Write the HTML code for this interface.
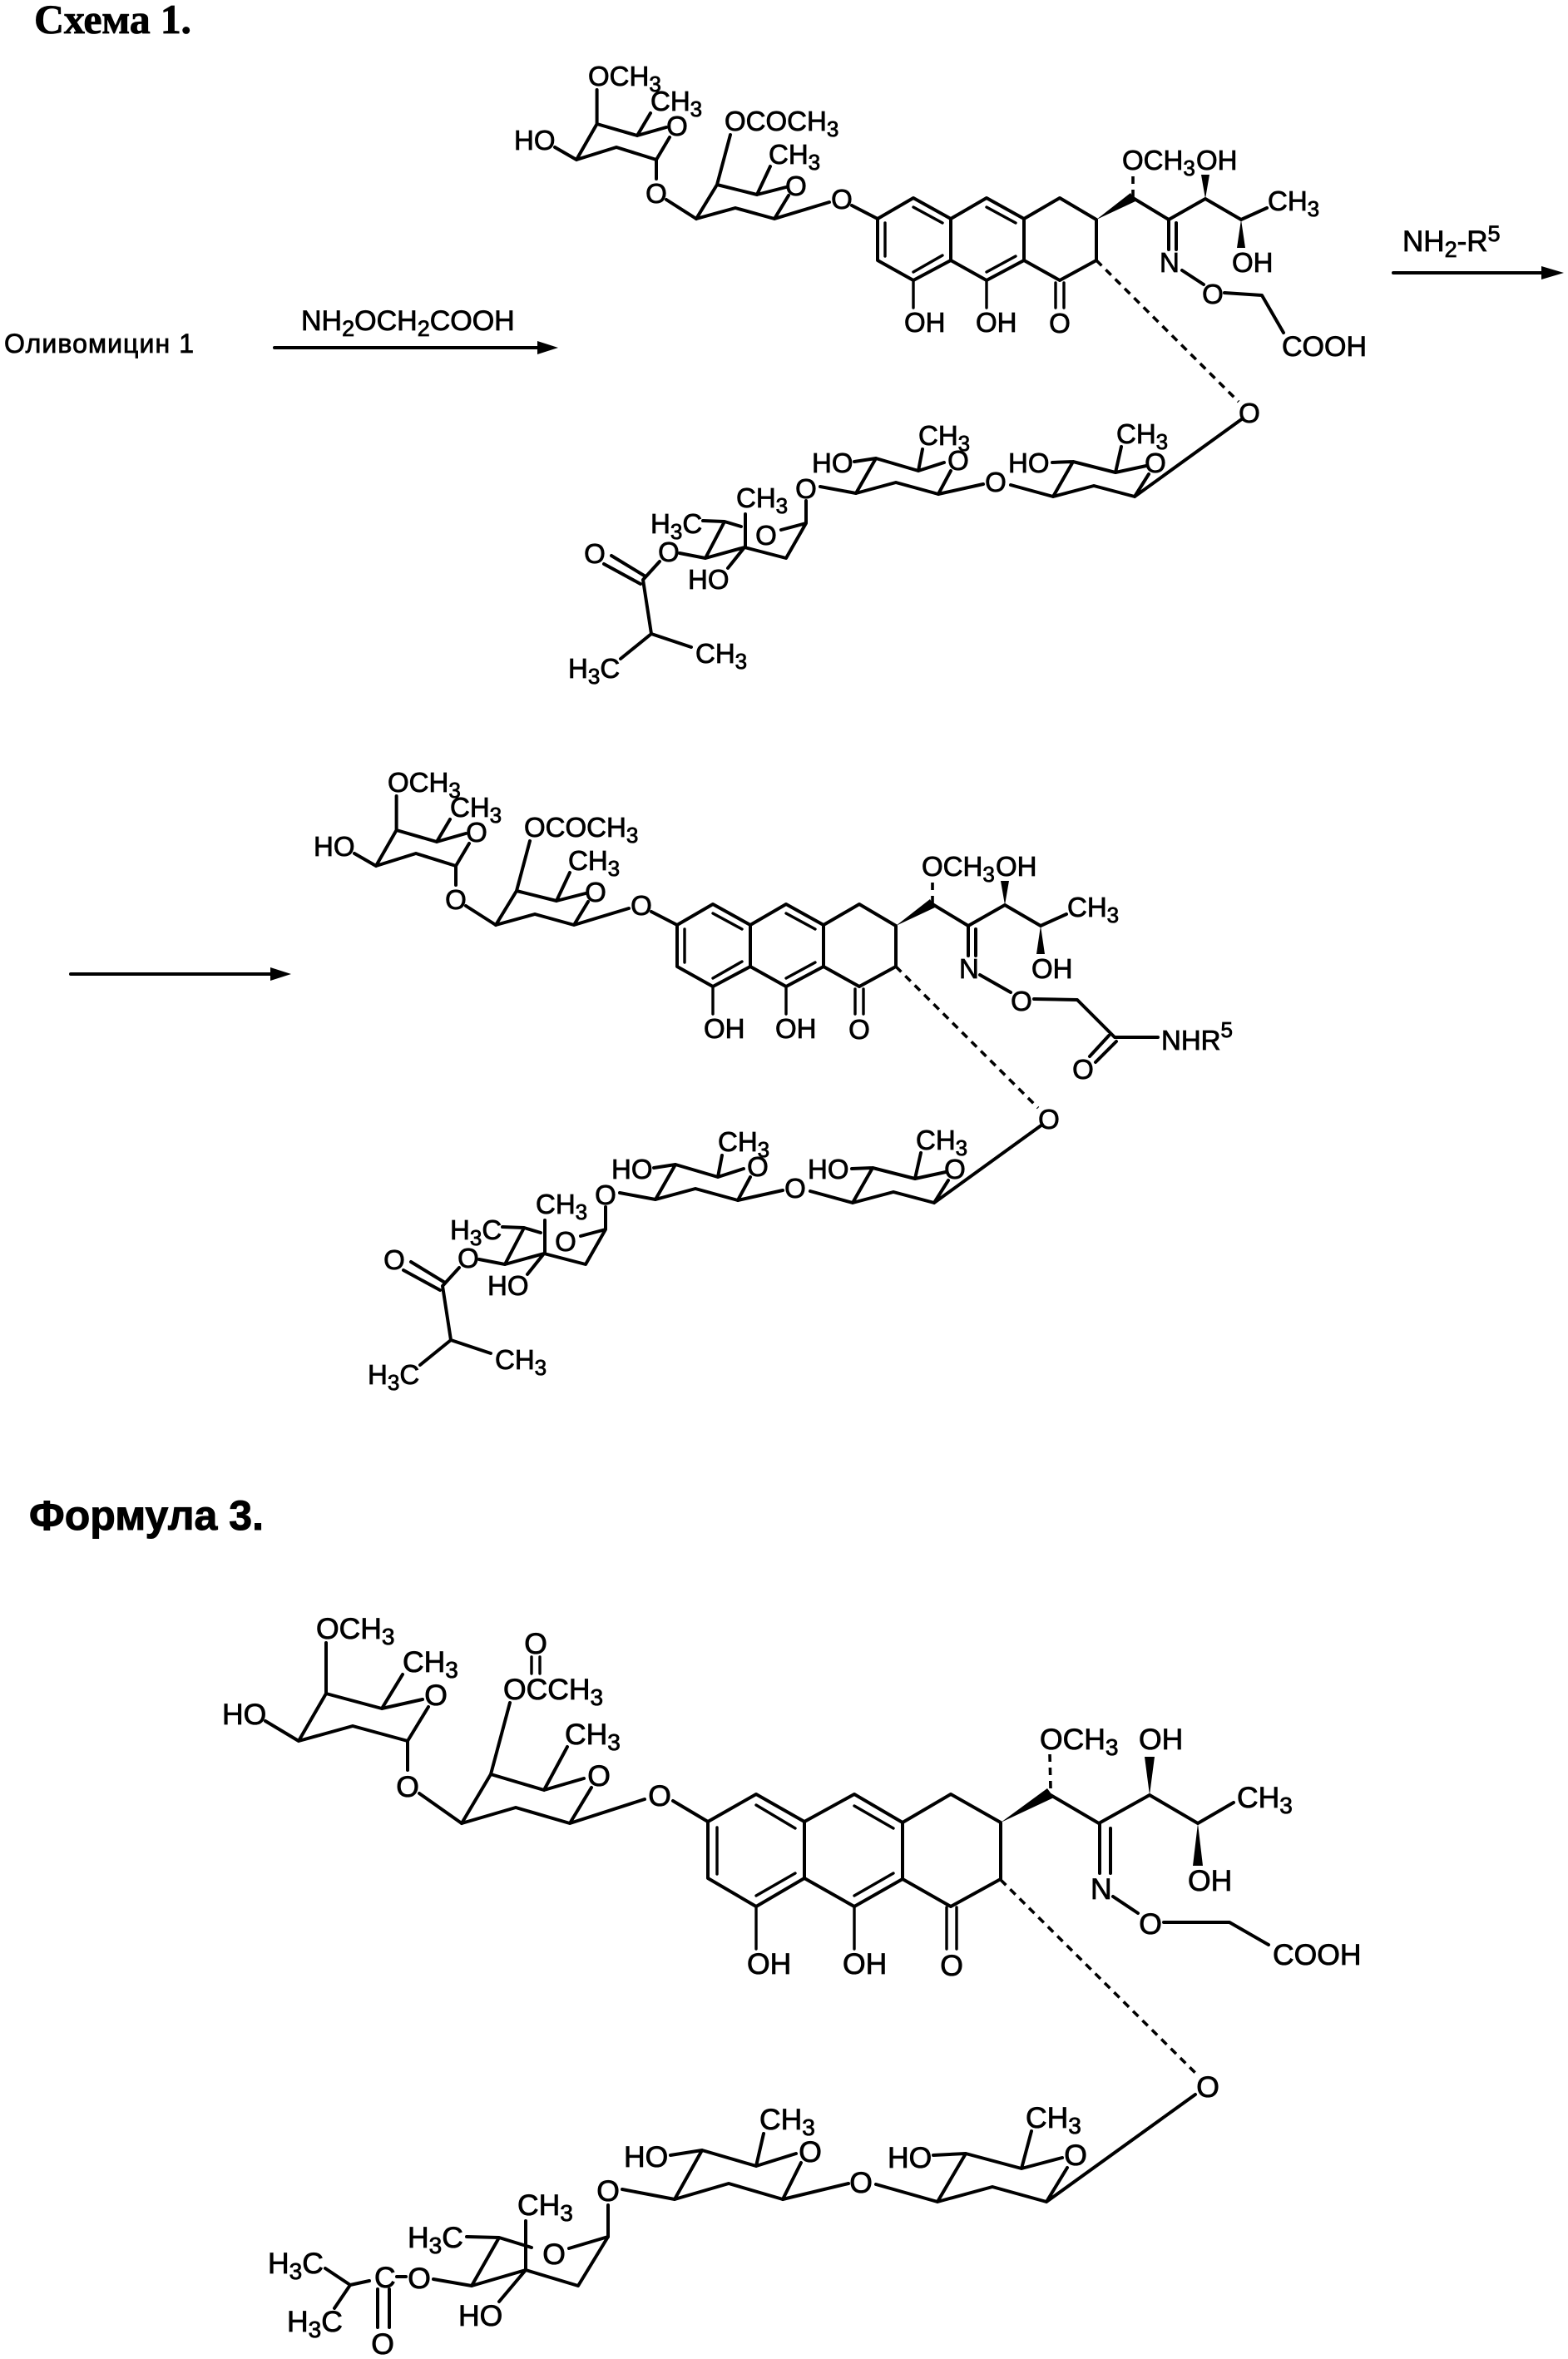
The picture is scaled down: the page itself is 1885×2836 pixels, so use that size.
<!DOCTYPE html>
<html><head><meta charset="utf-8"><style>
html,body{margin:0;padding:0;background:#fff}
svg{display:block}
text{font-family:"Liberation Sans",sans-serif;font-size:33px;fill:#000;stroke:#000;stroke-width:.8}
.f3 text{font-size:35.5px}
.m{text-anchor:middle}
.b{fill:none;stroke:#000;stroke-width:4;stroke-linecap:round;stroke-linejoin:round}
.t{fill:none;stroke:#000;stroke-width:3.4;stroke-linecap:round}
.d{fill:none;stroke:#000;stroke-width:3.6;stroke-dasharray:9 7}
</style></head><body>
<svg xmlns="http://www.w3.org/2000/svg" width="1885" height="2836" viewBox="0 0 1885 2836">
<rect width="1885" height="2836" fill="#fff"/>
<text x="41" y="40" style="font-family:'Liberation Serif',serif;font-weight:bold;font-size:50px" textLength="189">Схема 1.</text>
<text x="5" y="424" style="font-size:32px" textLength="228">Оливомицин 1</text>
<text x="362" y="397" style="font-size:34px">NH<tspan dy="7" font-size="27">2</tspan><tspan dy="-7">OCH</tspan><tspan dy="7" font-size="27">2</tspan><tspan dy="-7">COOH</tspan></text>
<path class="b" d="M330 418H650"/><polygon points="646,410 671,418 646,426"/>
<text x="1686" y="302" style="font-size:35px">NH<tspan dy="7" font-size="27">2</tspan><tspan dy="-7">-R</tspan><tspan dy="-12" font-size="27">5</tspan></text>
<path class="b" d="M1675 328H1860"/><polygon points="1853,320 1880,328 1853,336"/>
<path class="b" d="M85 1171H330"/><polygon points="325,1163 350,1171 325,1179"/>
<text x="35" y="1839" style="font-weight:bold;font-size:50px;stroke-width:1" textLength="282">Формула 3.</text>

<defs>
<g id="core">
<path class="b" d="M717.6 108V149L766 163L801 153M766 163L782 136M717.6 149L693 192L741 177L789 192L805 165M667 177L693 192M789 192V215M801 240L837 263"/>
<path class="b" d="M837 263L884 250L931 263L948 235M837 263L862 222L910 234L945 225M862 222L878 162M910 234L926 200M931 263L997 243M1024 247L1055 263"/>
<path class="b" d="M1055 263L1098 238L1143 263L1186 238L1231 263L1274 238L1318 264V313L1274 337L1231 313V263M1231 313L1186 337L1143 313V263M1143 313L1098 337L1055 313V263"/>
<path class="t" d="M1064 268V308M1098 249L1133 268M1098 327L1133 307M1186 249L1221 268M1186 327L1221 308M1098 337V370M1186 337V370M1269 340V370M1279 340V370"/>
<polygon points="1318,264 1359,232 1365,242"/>
<polygon points="1449,239 1444,210 1454,210"/>
<polygon points="1492,264 1487,298 1497,298"/>
<path class="d" d="M1362 237V208"/>
<path class="b" d="M1362 238L1405 264L1449 239L1492 264L1523 250M1405 264V300M1414 268V300"/>
<path class="d" d="M1318 313L1489 483"/>
<path class="b" d="M1494 503L1364 597L1315 584L1266 597L1290 555L1341 568L1378 560M1364 597L1381 570M1341 568L1348 537M1265 556L1290 555M1128 594L1182 582M1215 583L1266 597"/>
<path class="b" d="M1128 594L1077 580L1029 593L1053 551L1104 566L1135 556M1128 594L1143 566M1104 566L1109 540M1027 555L1053 551M986 585L1029 593M969 602V628"/>
<path class="b" d="M939 637L969 629L945 671L895 658L848 671L871 627L845 626M871 627L891 633M896 618V658M817 665L848 671M895 658L875 683"/>
<path class="b" d="M793 675L773 697L783 762L831 778M783 762L746 792M735 668L776 693M726 678L770 702"/>
</g>
</defs>

<use href="#core"/>
<g id="m1t">
<text x="707" y="103">OCH<tspan dy="7" font-size="26">3</tspan></text>
<text x="782" y="133">CH<tspan dy="7" font-size="26">3</tspan></text>
<text class="m" x="814" y="163">O</text>
<text x="618" y="180">HO</text>
<text class="m" x="789" y="244">O</text>
<text x="871" y="157">OCOCH<tspan dy="7" font-size="26">3</tspan></text>
<text x="924" y="197">CH<tspan dy="7" font-size="26">3</tspan></text>
<text class="m" x="957" y="235">O</text>
<text class="m" x="1012" y="251">O</text>
<text x="1087" y="399">OH</text>
<text x="1173" y="399">OH</text>
<text class="m" x="1274" y="400">O</text>
<text x="1349" y="204">OCH<tspan dy="7" font-size="26">3</tspan></text>
<text x="1438" y="204">OH</text>
<text x="1524" y="253">CH<tspan dy="7" font-size="26">3</tspan></text>
<text x="1481" y="327">OH</text>
<text x="1394" y="327">N</text>
<text class="m" x="1502" y="508">O</text>
<text x="1342" y="533">CH<tspan dy="7" font-size="26">3</tspan></text>
<text class="m" x="1389" y="568">O</text>
<text x="1212" y="568">HO</text>
<text class="m" x="1197" y="591">O</text>
<text x="1104" y="535">CH<tspan dy="7" font-size="26">3</tspan></text>
<text class="m" x="1152" y="565">O</text>
<text x="976" y="568">HO</text>
<text class="m" x="969" y="599">O</text>
<text x="885" y="610">CH<tspan dy="7" font-size="26">3</tspan></text>
<text class="m" x="921" y="655">O</text>
<text x="782" y="641">H<tspan dy="7" font-size="26">3</tspan><tspan dy="-7">C</tspan></text>
<text class="m" x="804" y="675">O</text>
<text x="827" y="708">HO</text>
<text class="m" x="715" y="677">O</text>
<text x="836" y="797">CH<tspan dy="7" font-size="26">3</tspan></text>
<text x="683" y="815">H<tspan dy="7" font-size="26">3</tspan><tspan dy="-7">C</tspan></text>
</g>
<path class="b" d="M1421 325L1447 342M1472 352L1517 355L1543 400"/>
<text class="m" x="1458" y="365">O</text>
<text x="1541" y="428" style="font-size:34px">COOH</text>

<g transform="translate(-241 849)">
<use href="#core"/>
<text x="707" y="103">OCH<tspan dy="7" font-size="26">3</tspan></text>
<text x="782" y="133">CH<tspan dy="7" font-size="26">3</tspan></text>
<text class="m" x="814" y="163">O</text>
<text x="618" y="180">HO</text>
<text class="m" x="789" y="244">O</text>
<text x="871" y="157">OCOCH<tspan dy="7" font-size="26">3</tspan></text>
<text x="924" y="197">CH<tspan dy="7" font-size="26">3</tspan></text>
<text class="m" x="957" y="235">O</text>
<text class="m" x="1012" y="251">O</text>
<text x="1087" y="399">OH</text>
<text x="1173" y="399">OH</text>
<text class="m" x="1274" y="400">O</text>
<text x="1349" y="204">OCH<tspan dy="7" font-size="26">3</tspan></text>
<text x="1438" y="204">OH</text>
<text x="1524" y="253">CH<tspan dy="7" font-size="26">3</tspan></text>
<text x="1481" y="327">OH</text>
<text x="1394" y="327">N</text>
<text class="m" x="1502" y="508">O</text>
<text x="1342" y="533">CH<tspan dy="7" font-size="26">3</tspan></text>
<text class="m" x="1389" y="568">O</text>
<text x="1212" y="568">HO</text>
<text class="m" x="1197" y="591">O</text>
<text x="1104" y="535">CH<tspan dy="7" font-size="26">3</tspan></text>
<text class="m" x="1152" y="565">O</text>
<text x="976" y="568">HO</text>
<text class="m" x="969" y="599">O</text>
<text x="885" y="610">CH<tspan dy="7" font-size="26">3</tspan></text>
<text class="m" x="921" y="655">O</text>
<text x="782" y="641">H<tspan dy="7" font-size="26">3</tspan><tspan dy="-7">C</tspan></text>
<text class="m" x="804" y="675">O</text>
<text x="827" y="708">HO</text>
<text class="m" x="715" y="677">O</text>
<text x="836" y="797">CH<tspan dy="7" font-size="26">3</tspan></text>
<text x="683" y="815">H<tspan dy="7" font-size="26">3</tspan><tspan dy="-7">C</tspan></text>
</g>
<path class="b" d="M1178 1172L1215 1193M1243 1201L1295 1202L1340 1247H1392M1333 1245L1310 1270M1342 1252L1317 1277"/>
<text class="m" x="1228" y="1215">O</text>
<text class="m" x="1302" y="1297">O</text>
<text x="1396" y="1262">NHR<tspan dy="-15" font-size="26">5</tspan></text>

<!-- Formula 3 -->
<path class="b" d="M392 1975V2036L459 2054L508 2043M459 2054L484 2013M392 2036L359 2093L424 2075L490 2093L515 2052M319 2069L359 2093M490 2093V2128M504 2156L555 2192"/>
<path class="b" d="M555 2192L620 2173L685 2192L711 2149M555 2192L590 2133L654 2152L702 2138M654 2152L682 2100M590 2133L613 2047M685 2192L775 2163M809 2165L851 2190"/>
<path class="t" d="M639 1992V2012M649 1992V2012"/>
<path class="b" d="M851 2190L909 2157L967 2190L1027 2157L1085 2191L1143 2157L1203 2191V2259L1143 2292L1085 2259V2191M1085 2259L1027 2292L967 2258V2190M967 2258L909 2292L851 2258V2190"/>
<path class="t" d="M862 2197V2253M909 2170L956 2198M909 2279L956 2252M1027 2171L1074 2198M1027 2279L1074 2252M909 2292V2343M1027 2292V2343M1138 2293V2343M1150 2293V2343"/>
<polygon points="1203,2191 1259,2150 1267,2161"/>
<polygon points="1382,2158 1376,2112 1388,2112"/>
<polygon points="1440,2192 1434,2243 1446,2243"/>
<path class="d" d="M1263 2150L1262 2108"/>
<path class="b" d="M1263 2158L1321 2192L1382 2158L1440 2192L1483 2167M1322 2192V2252M1335 2198V2252M1338 2280L1368 2300M1399 2311H1478L1525 2338"/>
<path class="d" d="M1203 2260L1440 2495"/>
<path class="b" d="M1437 2518L1258 2647L1193 2629L1127 2647L1161 2589L1228 2607L1277 2594M1258 2647L1283 2606M1228 2607L1240 2562M1122 2591L1161 2589M941 2644L1020 2625M1053 2626L1127 2647"/>
<path class="b" d="M941 2644L876 2625L811 2644L844 2585L909 2604L957 2589M941 2644L963 2600M909 2604L918 2565M806 2591L844 2585M748 2632L811 2644M731 2651V2689"/>
<path class="b" d="M684 2703L731 2689L695 2748L632 2729L567 2748L600 2690L561 2689M600 2690L639 2702M632 2670V2729M521 2740L567 2748M632 2729L600 2767M477 2737H488"/>
<path class="b" d="M391 2727L421 2747L444 2742M421 2747L402 2775M454 2752V2798M468 2752V2798"/>

<g class="f3">
<text x="380" y="1970">OCH<tspan dy="7" font-size="28">3</tspan></text>
<text x="484" y="2010">CH<tspan dy="7" font-size="28">3</tspan></text>
<text class="m" x="524" y="2050">O</text>
<text x="267" y="2073">HO</text>
<text class="m" x="490" y="2160">O</text>
<text class="m" x="644" y="1988">O</text>
<text x="605" y="2043">OCCH<tspan dy="7" font-size="28">3</tspan></text>
<text x="679" y="2097">CH<tspan dy="7" font-size="28">3</tspan></text>
<text class="m" x="720" y="2147">O</text>
<text class="m" x="793" y="2171">O</text>
<text x="898" y="2373">OH</text>
<text x="1013" y="2373">OH</text>
<text class="m" x="1144" y="2375">O</text>
<text x="1250" y="2103">OCH<tspan dy="7" font-size="28">3</tspan></text>
<text x="1369" y="2103">OH</text>
<text x="1487" y="2173">CH<tspan dy="7" font-size="28">3</tspan></text>
<text x="1428" y="2273">OH</text>
<text x="1311" y="2283">N</text>
<text class="m" x="1383" y="2325">O</text>
<text x="1530" y="2362">COOH</text>
<text class="m" x="1452" y="2521">O</text>
<text x="1233" y="2558">CH<tspan dy="7" font-size="28">3</tspan></text>
<text class="m" x="1293" y="2603">O</text>
<text x="1067" y="2606">HO</text>
<text class="m" x="1035" y="2636">O</text>
<text x="913" y="2560">CH<tspan dy="7" font-size="28">3</tspan></text>
<text class="m" x="974" y="2599">O</text>
<text x="750" y="2605">HO</text>
<text class="m" x="731" y="2646">O</text>
<text x="622" y="2663">CH<tspan dy="7" font-size="28">3</tspan></text>
<text class="m" x="666" y="2722">O</text>
<text x="490" y="2702">H<tspan dy="7" font-size="28">3</tspan><tspan dy="-7">C</tspan></text>
<text class="m" x="504" y="2751">O</text>
<text x="450" y="2750">C</text>
<text x="551" y="2796">HO</text>
<text class="m" x="460" y="2830">O</text>
<text x="322" y="2733">H<tspan dy="7" font-size="28">3</tspan><tspan dy="-7">C</tspan></text>
<text x="345" y="2803">H<tspan dy="7" font-size="28">3</tspan><tspan dy="-7">C</tspan></text>
</g>
</svg>
</body></html>
